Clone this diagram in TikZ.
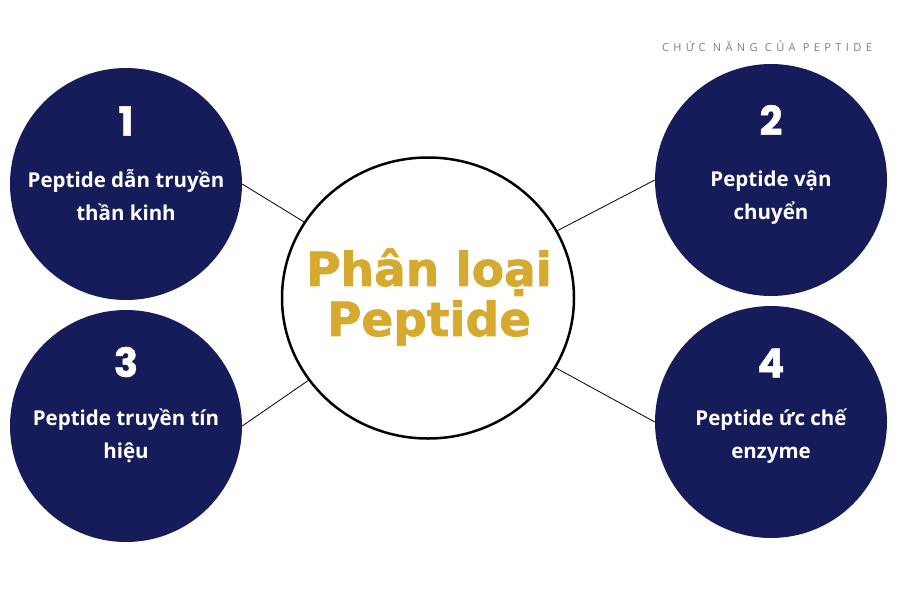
\documentclass[tikz,border=0pt]{standalone}
\usepackage{fontspec}
\setmainfont{Open Sans}
\newfontfamily\titlefont{DejaVu Sans}[BoldFeatures={FakeBold=1.6}]
\newfontfamily\numfont{Poppins}[BoldFeatures={FakeBold=1.2}]
\newfontfamily\capfont{Open Sans}[LetterSpace=40]
\usetikzlibrary{shapes.geometric}
\definecolor{navy}{RGB}{22,27,90}
\definecolor{gold}{RGB}{214,170,46}
\definecolor{capgray}{RGB}{125,125,125}

\begin{document}
\begin{tikzpicture}[x=1pt,y=-1pt]
\tikzstyle{topic}=[circle, fill=navy, minimum size=232pt, inner sep=0pt]
\tikzstyle{num}=[text=white, font=\numfont\bfseries\fontsize{40}{40}\selectfont]
\tikzstyle{lbl}=[text=white, align=center, font=\bfseries\fontsize{20.5}{33}\selectfont]
\tikzstyle{hub}=[ellipse, draw, line width=2.5pt, minimum width=292pt, minimum height=281pt, inner sep=0pt]

\useasboundingbox (0,0) rectangle (900,600);

\draw (767,46) node[text=capgray, font=\capfont\fontsize{11}{12}\selectfont] (cap) {CHỨC NĂNG CỦA PEPTIDE};

\draw (428,298) node[hub] (hub) {};
\draw (429,297) node[text=gold, align=center, font=\titlefont\bfseries\fontsize{47}{50}\selectfont] (title) {Phân loại\\Peptide};

\draw (126,184) node[topic] (t1) {};
\draw (771,180) node[topic] (t2) {};
\draw (126,426) node[topic] (t3) {};
\draw (771,422) node[topic] (t4) {};

\draw (126,121) node[num] (n1) {1};
\draw (771,120) node[num] (n2) {2};
\draw (126,362) node[num] (n3) {3};
\draw (771,363) node[num] (n4) {4};

\draw (126,195) node[lbl] (l1) {Peptide dẫn truyền\\thần kinh};
\draw (771,198) node[lbl] (l2) {Peptide vận\\chuyển};
\draw (126,436) node[lbl] (l3) {Peptide truyền tín\\hiệu};
\draw (771,436) node[lbl] (l4) {Peptide ức chế\\enzyme};

\draw[line width=0.8pt] (t1.east) -- (hub);
\draw[line width=0.8pt] (t3.east) -- (hub);
\draw[line width=0.8pt] (t2.west) -- (hub);
\draw[line width=0.8pt] (t4.west) -- (hub);
\end{tikzpicture}
\end{document}
